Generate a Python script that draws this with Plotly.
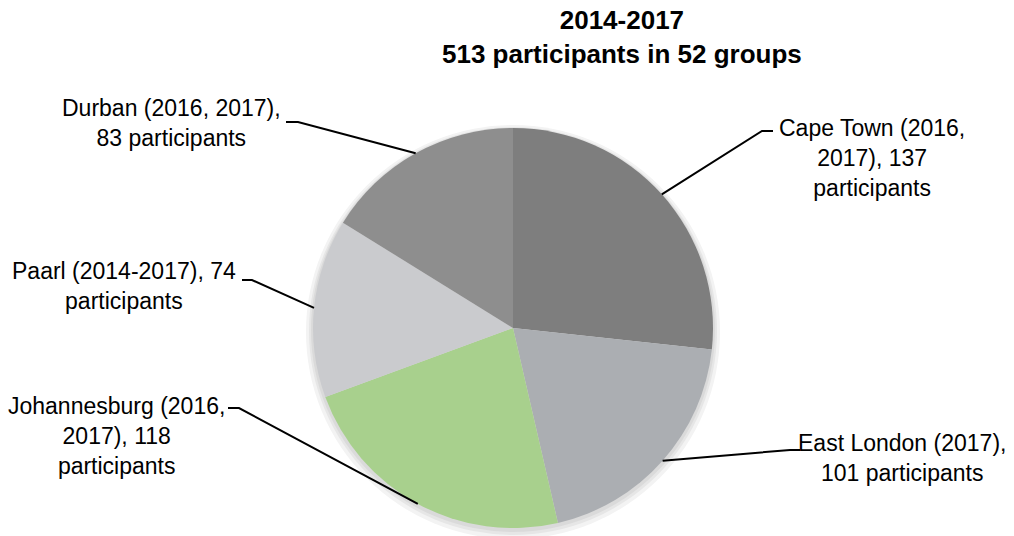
import math
import plotly.graph_objects as go

# ---- data ----
cities = ["Cape Town", "East London", "Johannesburg", "Paarl", "Durban"]
participants = [137, 101, 118, 74, 83]
label_texts = [
    "Cape Town (2016,<br>2017), 137<br>participants",
    "East London (2017),<br>101 participants",
    "Johannesburg (2016,<br>2017), 118<br>participants",
    "Paarl (2014-2017), 74<br>participants",
    "Durban (2016, 2017),<br>83 participants",
]
title_lines = ["2014-2017", "513 participants in 52 groups"]

# ---- styling ----
colors = ["#7e7e7e", "#abaeb2", "#a8d08d", "#cacbce", "#8e8e8e"]
W, H = 1014, 536
OFF = 0  # page body margin removed via post_script
FONT = "Liberation Sans Narrow, Arial Narrow, Liberation Sans, Arial, sans-serif"

# pie geometry in screen pixels (layout)
pcx, pcy, pr = 513, 328, 200


def px(x):
    return (x - OFF) / W


def py(y):
    return 1 - (y - OFF) / H


# label anchor (text center) and elbow of leader line, in screen pixels (layout)
label_pos = [(872, 158), (902, 458), (116, 436), (124, 286), (171, 123)]
elbow = [((773, 131), (762, 131)),
         ((800, 450), (790, 450)),
         ((228, 408), (239, 408)),
         ((242, 280), (252, 280)),
         ((286, 122), (298, 122))]

fig = go.Figure()
fig.add_trace(go.Pie(
    labels=cities,
    values=participants,
    sort=False,
    direction="clockwise",
    rotation=0,
    textinfo="none",
    hoverinfo="label+value",
    marker=dict(colors=colors, line=dict(width=0)),
    domain=dict(x=[px(pcx - pr), px(pcx + pr)], y=[py(pcy + pr), py(pcy - pr)]),
    showlegend=False,
))

shapes = []
# soft shadow behind the pie
for grow, dy, col in [(7, 4, "#f3f3f3"), (4, 3, "#e6e6e6"), (2, 2, "#dadada")]:
    shapes.append(dict(type="circle", xref="paper", yref="paper", layer="below",
                       x0=px(pcx - pr - grow), x1=px(pcx + pr + grow),
                       y0=py(pcy + pr + grow + dy), y1=py(pcy - pr - grow + dy),
                       fillcolor=col, line=dict(width=0)))

# leader lines: from text elbow to rim at slice mid-angle (derived from data)
total = sum(participants)
cum = 0
annotations = []
for i, v in enumerate(participants):
    mid = (cum + v / 2) / total * 2 * math.pi
    cum += v
    rx = pcx + pr * math.sin(mid)
    ry = pcy - pr * math.cos(mid)
    (x0, y0), (x1, y1) = elbow[i]
    path = f"M {px(x0)},{py(y0)} L {px(x1)},{py(y1)} L {px(rx)},{py(ry)}"
    shapes.append(dict(type="path", xref="paper", yref="paper", path=path,
                       line=dict(color="black", width=2)))
    lx, ly = label_pos[i]
    annotations.append(dict(x=px(lx), y=py(ly), xref="paper", yref="paper",
                            text=label_texts[i], showarrow=False,
                            xanchor="center", yanchor="middle", align="center",
                            font=dict(family=FONT, size=23, color="black")))

annotations.append(dict(x=px(622), y=py(37), xref="paper", yref="paper",
                        text="<b>" + "<br>".join(title_lines) + "</b>",
                        showarrow=False, xanchor="center", yanchor="middle",
                        align="center",
                        font=dict(family=FONT, size=26, color="black")))

fig.update_layout(
    width=W, height=H,
    margin=dict(l=0, r=0, t=0, b=0),
    paper_bgcolor="white",
    plot_bgcolor="white",
    shapes=shapes,
    annotations=annotations,
)

fig.write_html("out.html", config={"displayModeBar": False},
               post_script="document.body.style.margin='0';")
